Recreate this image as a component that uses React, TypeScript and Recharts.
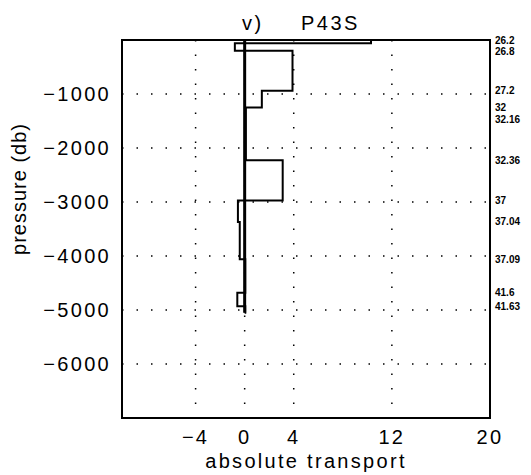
import {
  ScatterChart,
  Scatter,
  XAxis,
  YAxis,
  CartesianGrid,
  ReferenceArea,
} from "recharts";

// layer boundaries (pressure, db) and absolute transport in each layer
const layerBounds = [0, -60, -200, -940, -1250, -1470, -2225, -2970, -3370, -4060, -4680, -4930, -5050];
const transport = [10.3, -0.8, 3.9, 1.4, 0.1, 0.1, 3.1, -0.55, -0.4, 0.05, -0.6, 0.05];

const xTicks = [-4, 0, 4, 12, 20];
const yTicks = [-6000, -5000, -4000, -3000, -2000, -1000];

// density labels on the right edge
const densityPressures = [-10, -205, -940, -1250, -1470, -2225, -2970, -3370, -4060, -4680, -4930];
const densityLabels = ["26.2", "26.8", "27.2", "32", "32.16", "32.36", "37", "37.04", "37.09", "41.6", "41.63"];

const font = "'Liberation Sans', Arial, Helvetica, sans-serif";

// step outline: each layer drawn as a vertical segment at its value
const outline = [{ x: 0, y: layerBounds[0] }];
transport.forEach((v, i) => {
  outline.push({ x: v, y: layerBounds[i] });
  outline.push({ x: v, y: layerBounds[i + 1] });
});
outline.push({ x: 0, y: layerBounds[layerBounds.length - 1] });

const zeroLine = [
  { x: 0, y: layerBounds[0] },
  { x: 0, y: layerBounds[layerBounds.length - 1] },
];

const minus = (v: number) => (v < 0 ? `\u2212${Math.abs(v)}` : `${v}`);

function LeftTick(props: any) {
  const { x, y, payload } = props;
  return (
    <text x={x} y={y + 7} textAnchor="end" fontSize={20} fontFamily={font} letterSpacing={2.3} fill="#000">
      {minus(payload.value)}
    </text>
  );
}

function BottomTick(props: any) {
  const { x, y, payload } = props;
  return (
    <text x={x} y={y + 26} textAnchor="middle" fontSize={20} fontFamily={font} letterSpacing={2.3} fill="#000">
      {minus(payload.value)}
    </text>
  );
}

function RightTick(props: any) {
  const { x, y, payload } = props;
  const i = densityPressures.indexOf(payload.value);
  return (
    <text x={x} y={y + 3.5} textAnchor="start" fontSize={10} fontWeight="bold" fontFamily={font} fill="#000">
      {densityLabels[i]}
    </text>
  );
}

export default function App() {
  return (
    <div style={{ position: "absolute", left: 0, top: 0, width: 531, height: 475, background: "#fff" }}>
      <div
        style={{
          position: "absolute",
          top: 13,
          left: 0,
          width: 531,
          fontFamily: font,
          fontSize: 20,
          lineHeight: "20px",
          letterSpacing: 2.5,
          color: "#000",
        }}
      >
        <span style={{ position: "absolute", left: 242 }}>v)</span>
        <span style={{ position: "absolute", left: 301 }}>P43S</span>
      </div>
      <ScatterChart width={531} height={475} margin={{ top: 40, right: 0, bottom: 0, left: 60 }}>
        <CartesianGrid stroke="#000" strokeDasharray="1.5 13" strokeWidth={1.5} />
        <XAxis
          type="number"
          dataKey="x"
          domain={[-10, 20]}
          ticks={xTicks}
          allowDataOverflow
          axisLine={false}
          tickLine={false}
          tickSize={0}
          tickMargin={0}
          height={57}
          tick={<BottomTick />}
          label={{
            content: (p: any) => (
              <text
                x={p.viewBox.x + p.viewBox.width / 2}
                y={468}
                textAnchor="middle"
                fontSize={20}
                fontFamily={font}
                letterSpacing={2.3}
                fill="#000"
              >
                absolute transport
              </text>
            ),
          }}
        />
        <YAxis
          type="number"
          dataKey="y"
          domain={[-7000, 0]}
          ticks={yTicks}
          allowDataOverflow
          axisLine={false}
          tickLine={false}
          tickSize={0}
          tickMargin={11}
          width={62}
          interval={0}
          tick={<LeftTick />}
          label={{
            content: () => (
              <text
                transform="translate(26,189) rotate(-90)"
                textAnchor="middle"
                fontSize={20}
                fontFamily={font}
                letterSpacing={1}
                fill="#000"
              >
                pressure (db)
              </text>
            ),
          }}
        />
        <YAxis
          yAxisId="r"
          orientation="right"
          type="number"
          domain={[-7000, 0]}
          ticks={densityPressures}
          allowDataOverflow
          axisLine={false}
          tickLine={false}
          tickSize={0}
          tickMargin={5}
          width={41}
          interval={0}
          tick={<RightTick />}
        />
        <ReferenceArea x1={-10} x2={20} y1={-7000} y2={0} fill="none" stroke="#000" strokeWidth={2} />
        <Scatter
          data={zeroLine}
          line={{ stroke: "#000", strokeWidth: 3 }}
          shape={() => <g />}
          isAnimationActive={false}
        />
        <Scatter
          data={outline}
          line={{ stroke: "#000", strokeWidth: 2 }}
          shape={() => <g />}
          isAnimationActive={false}
        />
      </ScatterChart>
    </div>
  );
}
